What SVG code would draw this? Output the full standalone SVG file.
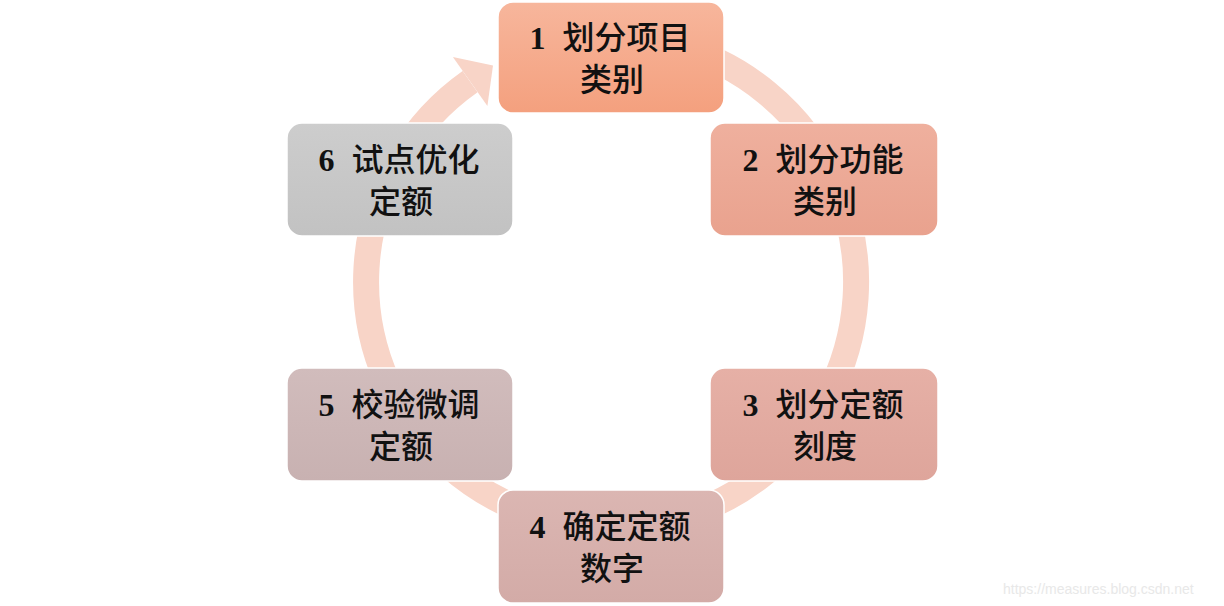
<svg xmlns="http://www.w3.org/2000/svg" width="1224" height="606" viewBox="0 0 1224 606">
<style>
.lbl{font-family:"Liberation Serif","Noto Sans CJK SC",serif;font-size:32px;font-weight:bold;fill:#111;text-anchor:middle}
.cj{font-family:"Noto Sans CJK SC",sans-serif;font-weight:500}
.box{stroke:#ffffff;stroke-width:1.5}
.ring{fill:none;stroke:#f8d4c7;stroke-width:26}
.wm{font-family:"Liberation Sans",Arial,sans-serif;font-size:14px;fill:#e8e8e8}
</style>
<defs>
<linearGradient id="g1" x1="0" y1="0" x2="0" y2="1"><stop offset="0" stop-color="#f7b69c"/><stop offset="1" stop-color="#f4a07e"/></linearGradient>
<linearGradient id="g2" x1="0" y1="0" x2="0" y2="1"><stop offset="0" stop-color="#efb09e"/><stop offset="1" stop-color="#e9a28e"/></linearGradient>
<linearGradient id="g3" x1="0" y1="0" x2="0" y2="1"><stop offset="0" stop-color="#e6b0a6"/><stop offset="1" stop-color="#dea59b"/></linearGradient>
<linearGradient id="g4" x1="0" y1="0" x2="0" y2="1"><stop offset="0" stop-color="#dbb6b2"/><stop offset="1" stop-color="#d3aba7"/></linearGradient>
<linearGradient id="g5" x1="0" y1="0" x2="0" y2="1"><stop offset="0" stop-color="#d1bcbc"/><stop offset="1" stop-color="#c8b1b1"/></linearGradient>
<linearGradient id="g6" x1="0" y1="0" x2="0" y2="1"><stop offset="0" stop-color="#cdcdcd"/><stop offset="1" stop-color="#c2c2c2"/></linearGradient>
</defs>
<rect width="1224" height="606" fill="#ffffff"/>
<g id="connectors">
<path class="ring" d="M470.1,81.6 A245,245 0 1 0 674.4,45.3"/>
<polygon points="452.9,57.1 493,65.5 487.4,106.1" fill="#f8d4c7"/>
</g>
<g id="node1">
<rect class="box" x="498" y="2" width="226" height="111" rx="15" fill="url(#g1)"/>
<text class="lbl" x="610" y="49">1 <tspan class="cj" dx="9">划分项目</tspan></text>
<text class="lbl cj" x="612" y="91">类别</text>
</g>
<g id="node2">
<rect class="box" x="710" y="123" width="228" height="113" rx="15" fill="url(#g2)"/>
<text class="lbl" x="823" y="171">2 <tspan class="cj" dx="9">划分功能</tspan></text>
<text class="lbl cj" x="825" y="213">类别</text>
</g>
<g id="node3">
<rect class="box" x="710" y="368" width="228" height="113" rx="15" fill="url(#g3)"/>
<text class="lbl" x="823" y="416">3 <tspan class="cj" dx="9">划分定额</tspan></text>
<text class="lbl cj" x="825" y="458">刻度</text>
</g>
<g id="node4">
<rect class="box" x="498" y="490" width="226" height="113" rx="15" fill="url(#g4)"/>
<text class="lbl" x="610" y="538">4 <tspan class="cj" dx="9">确定定额</tspan></text>
<text class="lbl cj" x="612" y="580">数字</text>
</g>
<g id="node5">
<rect class="box" x="287" y="368" width="226" height="113" rx="15" fill="url(#g5)"/>
<text class="lbl" x="399" y="416">5 <tspan class="cj" dx="9">校验微调</tspan></text>
<text class="lbl cj" x="401" y="458">定额</text>
</g>
<g id="node6">
<rect class="box" x="287" y="123" width="226" height="113" rx="15" fill="url(#g6)"/>
<text class="lbl" x="399" y="171">6 <tspan class="cj" dx="9">试点优化</tspan></text>
<text class="lbl cj" x="401" y="213">定额</text>
</g>
<text class="wm" x="1003" y="594">https://measures.blog.csdn.net</text>
</svg>
